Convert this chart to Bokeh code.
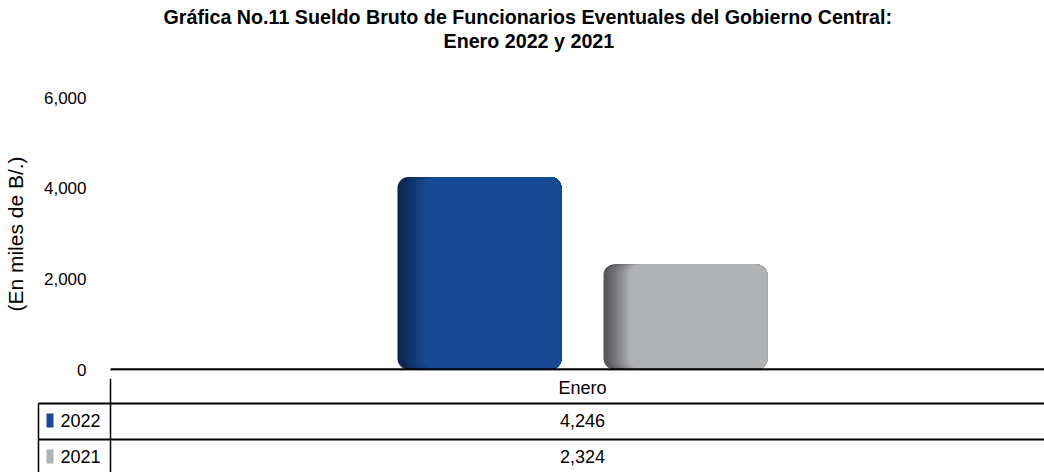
from bokeh.plotting import figure
from bokeh.models import Range1d, NumeralTickFormatter, FixedTicker, Title, Arrow
from bokeh.embed import file_html
from bokeh.resources import INLINE
from bokeh.core.properties import value

# ---------------- data ----------------
categories = ["Enero"]
series_names = ["2022", "2021"]
values_2022 = [4246]
values_2021 = [2324]
y_ticks = [0, 2000, 4000, 6000]
title_line1 = "Gráfica No.11 Sueldo Bruto de Funcionarios Eventuales del Gobierno Central:"
title_line2 = "Enero 2022 y 2021"
y_label = "(En miles de B/.)"

# ---------------- style / layout ----------------
main_colors = ["#174A93", "#B1B2B4"]
edge_colors = ["#0C2550", "#55565A"]
FONT = "Liberation Sans"
TITLE_SIZE = "19.7px"

W = 1044
TOP_H = 378
BOT_H = 94
FRAME_LEFT = 110
FRAME_TOP = 97
FRAME_BOTTOM_BORDER = 8
PX_PER_UNIT = 944.0
X_START = -0.5
X_END = X_START + (W - FRAME_LEFT) / PX_PER_UNIT
Y_MAX = 6000
PLOT_PX = 272.0                      # pixels from 0 to 6000
BELOW_PX = TOP_H - FRAME_BOTTOM_BORDER - FRAME_TOP - PLOT_PX
Y_MIN = -BELOW_PX / PLOT_PX * Y_MAX


def px2y(px):
    return -px / PLOT_PX * Y_MAX


series_values = [values_2022, values_2021]

# ---------------- top figure (bars + axis) ----------------
p = figure(width=W, height=TOP_H, x_range=Range1d(X_START, X_END),
           y_range=Range1d(Y_MIN, Y_MAX), output_backend="svg",
           toolbar_location=None, min_border_left=FRAME_LEFT,
           min_border_right=0, min_border_bottom=FRAME_BOTTOM_BORDER,
           min_border_top=FRAME_TOP)
p.title = None
p.xaxis.visible = False
p.xgrid.visible = False
p.ygrid.visible = False
p.outline_line_color = None

# titles: spacer (nearest the frame), second line, first line
spacer = Title(text=".", text_font=FONT, text_font_size=TITLE_SIZE, standoff=30,
               text_color="white")
t2 = Title(text=title_line2, align="left", offset=333, standoff=0, text_font=FONT,
           text_font_size=TITLE_SIZE, text_font_style="bold", text_color="black")
t1 = Title(text=title_line1, align="left", offset=53, standoff=0, text_font=FONT,
           text_font_size=TITLE_SIZE, text_font_style="bold", text_color="black")
p.add_layout(spacer, "above")
p.add_layout(t2, "above")
p.add_layout(t1, "above")

ax = p.yaxis[0]
ax.ticker = FixedTicker(ticks=y_ticks)
ax.formatter = NumeralTickFormatter(format="0,0")
ax.axis_line_color = None
ax.major_tick_line_color = None
ax.minor_tick_line_color = None
ax.major_label_standoff = 18
ax.major_label_text_font = FONT
ax.major_label_text_font_size = "17px"
ax.major_label_text_color = "black"
ax.axis_label = y_label
ax.axis_label_text_font = FONT
ax.axis_label_text_font_size = "21px"
ax.axis_label_text_font_style = "normal"
ax.axis_label_text_color = "black"
ax.axis_label_standoff = 14

bar_w = 164 / PX_PER_UNIT
gap = 42 / PX_PER_UNIT
n_series = len(series_names)


def mix(c1, c2, t):
    a = [int(c1[i:i + 2], 16) for i in (1, 3, 5)]
    b = [int(c2[i:i + 2], 16) for i in (1, 3, 5)]
    return "#%02x%02x%02x" % tuple(round(a[k] + (b[k] - a[k]) * t) for k in range(3))


steps = 12
grad_px = 26.0
for s in range(n_series):
    off = (s - (n_series - 1) / 2) * (bar_w + gap)
    for ci, cat in enumerate(categories):
        v = series_values[s][ci]
        left = ci + off - bar_w / 2
        right = ci + off + bar_w / 2
        for k in range(steps + 1):
            t = k / steps
            d = t * grad_px / PX_PER_UNIT
            col = mix(edge_colors[s], main_colors[s], t ** 1.1)
            l = left + d
            p.vbar(x=[(l + right) / 2], width=right - l, top=[v], bottom=0,
                   fill_color=col, line_color=None, border_radius=11)

# axis baseline and start of the first table column border
p.segment(x0=[X_START], y0=[0], x1=[X_END], y1=[0], line_color="black", line_width=2.5)
p.add_layout(Arrow(end=None, x_start=X_START, y_start=0, x_end=X_START,
                   y_end=px2y(FRAME_BOTTOM_BORDER + 2), line_color="black", line_width=1.5))

# ---------------- bottom figure (data table) ----------------
BX_START = X_START - FRAME_LEFT / PX_PER_UNIT
q = figure(width=W, height=BOT_H, x_range=Range1d(BX_START, X_END),
           y_range=Range1d(BOT_H, 0), output_backend="svg", toolbar_location=None,
           min_border=0)
q.xaxis.visible = False
q.yaxis.visible = False
q.grid.visible = False
q.outline_line_color = None

table_left = BX_START + 38 / PX_PER_UNIT
row_lines = [25, 61]
for yl in row_lines:
    q.segment(x0=[table_left], y0=[yl], x1=[X_END], y1=[yl], line_color="black", line_width=2)
q.segment(x0=[X_START], y0=[0], x1=[X_START], y1=[BOT_H], line_color="black", line_width=1.5)
q.segment(x0=[table_left], y0=[row_lines[0]], x1=[table_left], y1=[BOT_H],
          line_color="black", line_width=1.5)

header_y = 9
q.text(x=list(range(len(categories))), y=[header_y] * len(categories), text=categories,
       text_font=value(FONT), text_font_size="18px", text_align="center",
       text_baseline="middle", text_color="black")

row_y = [42, 78]
for s in range(n_series):
    q.text(x=list(range(len(categories))), y=[row_y[s]] * len(categories),
           text=[f"{v:,}" for v in series_values[s]],
           text_font=value(FONT), text_font_size="18px", text_align="center",
           text_baseline="middle", text_color="black")
    q.text(x=[table_left + 22 / PX_PER_UNIT], y=[row_y[s]], text=[series_names[s]],
           text_font=value(FONT), text_font_size="18px", text_align="left",
           text_baseline="middle", text_color="black")
    q.quad(left=[table_left + 8 / PX_PER_UNIT], right=[table_left + 15 / PX_PER_UNIT],
           top=[row_y[s] - 7], bottom=[row_y[s] + 7], fill_color=main_colors[s], line_color=None)

open("out.html", "w").write(file_html([p, q], INLINE))
